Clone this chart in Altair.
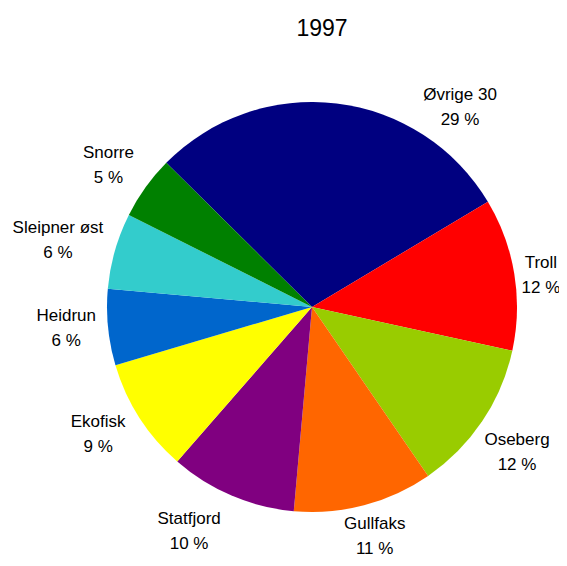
import math
import altair as alt
import pandas as pd

names = ["Øvrige 30", "Troll", "Oseberg", "Gullfaks", "Statfjord", "Ekofisk", "Heidrun", "Sleipner øst", "Snorre"]
shares = [29, 12, 12, 11, 10, 9, 6, 6, 5]
colors = ["#000080", "#FF0000", "#99CC00", "#FF6600", "#800080", "#FFFF00", "#0066CC", "#33CCCC", "#008000"]
title_text = "1997"

df = pd.DataFrame({
    "name": names,
    "share": shares,
    "order": list(range(len(names))),
    "pct": [f"{s} %" for s in shares],
})

start = math.radians(-45.3)
theta_scale = alt.Scale(range=[start, start + 2 * math.pi])
label_scale = alt.Scale(domain=[0, 100], range=[start, start + 2 * math.pi])
color_scale = alt.Scale(domain=names, range=colors)
FONT = "Liberation Sans"
FS = 17
CX, CY = 304, 299

pie = alt.Chart(df).mark_arc(outerRadius=205, stroke=None).encode(
    theta=alt.Theta("share:Q", stack=True, scale=theta_scale),
    order=alt.Order("order:Q"),
    x=alt.value(CX), y=alt.value(CY),
    color=alt.Color("name:N", scale=color_scale, legend=None),
)

lbase = alt.Chart(df).transform_window(
    cum="sum(share)", sort=[alt.SortField("order")], frame=[None, 0]
).transform_calculate(mid="datum.cum - datum.share / 2")

# label placement tweaks (radius, dx, dy) – styling only
place = {
    "Øvrige 30": (250, 118, 49),
    "Troll": (234, -2, 6),
    "Oseberg": (247, 0, 8),
    "Gullfaks": (247, 0, -9),
    "Statfjord": (247, -26, -3),
    "Ekofisk": (247, -6, -6),
    "Heidrun": (247, 0, -3),
    "Sleipner øst": (260, -4, 5),
    "Snorre": (247, -3, 3),
}

layers = [pie]
for nm in names:
    r, dx, dy = place[nm]
    for field, off in (("name", -12.5), ("pct", 12.5)):
        layers.append(
            lbase.transform_filter(alt.datum.name == nm)
            .mark_text(radius=r, fontSize=FS, font=FONT, color="#000",
                       dx=dx, dy=dy + off)
            .encode(theta=alt.Theta("mid:Q", scale=label_scale, stack=None),
                    x=alt.value(CX), y=alt.value(CY), text=f"{field}:N")
        )

title = alt.Chart(pd.DataFrame({"t": [title_text]})).mark_text(
    fontSize=23, font=FONT, color="#000"
).encode(x=alt.value(314), y=alt.value(21), text="t:N")
layers.append(title)

chart = alt.layer(*layers).resolve_scale(theta="independent").properties(
    width=551, height=550, autosize=alt.AutoSizeParams(type="none"), padding=0
).configure_view(stroke=None)

chart.save("out.html", embed_options={"renderer": "svg", "actions": False})
